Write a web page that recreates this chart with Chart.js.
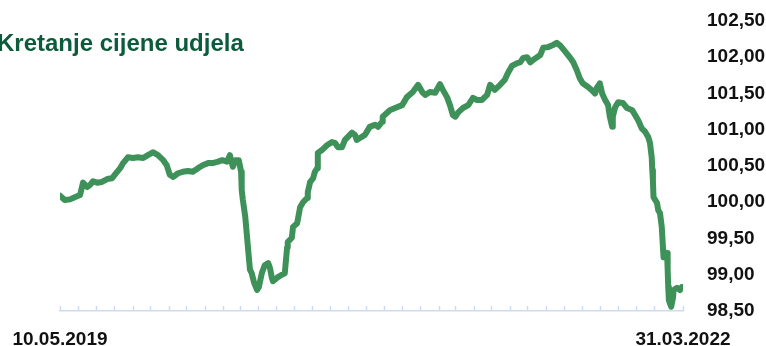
<!DOCTYPE html>
<html>
<head>
<meta charset="utf-8">
<script src="https://cdn.jsdelivr.net/npm/chart.js@4.4.1/dist/chart.umd.min.js"></script>
<style>
  html, body { margin: 0; padding: 0; background: #ffffff; overflow: hidden; }
  #wrap { position: relative; width: 766px; height: 346px; }
  #title { position: absolute; left: -3px; top: 31px; margin: 0; font: bold 24px "Liberation Sans", Arial, sans-serif; line-height: 24px; color: #0c5c3b; white-space: nowrap; z-index: 2; }
  canvas { position: absolute; left: 0; top: 0; }
</style>
</head>
<body>
<div id="wrap">
  <div id="title">Kretanje cijene udjela</div>
  <canvas id="c" width="766" height="346"></canvas>
</div>
<script>
// ---- Data ----
const startLabel = '10.05.2019';
const endLabel = '31.03.2022';
const totalDays = 1056; // 10.05.2019 -> 31.03.2022

// day offsets from 10.05.2019
const days = [
  0, 8, 17, 25, 34, 39, 46, 51, 56, 63, 71, 80, 88, 93, 102, 107, 115, 124, 132, 141,
  149, 158, 166, 175, 181, 186, 192, 200, 208, 217, 225, 234, 242, 251, 259, 268, 275, 283, 288, 293,
  297, 303, 307, 308, 310, 314, 319, 322, 325, 329, 334, 337, 342, 347, 353, 356, 359, 361, 368, 376,
  381, 385, 386, 393, 395, 402, 407, 412, 419, 420, 424, 429, 432, 436, 437, 444, 453, 461, 466, 471,
  478, 483, 495, 500, 503, 509, 517, 525, 534, 539, 546, 547, 559, 571, 580, 588, 598, 607, 614, 619,
  627, 636, 644, 649, 656, 661, 666, 670, 675, 683, 692, 700, 707, 715, 724, 729, 737, 746, 754, 759,
  766, 775, 780, 785, 792, 797, 805, 814, 819, 827, 836, 842, 848, 856, 864, 870, 876, 881, 886, 895,
  902, 907, 910, 915, 919, 924, 929, 932, 936, 937, 941, 946, 954, 961, 970, 975, 980, 986, 992, 997,
  1000, 1003, 1004, 1005, 1006, 1012, 1014, 1017, 1020, 1022, 1023, 1029, 1030, 1031, 1032, 1036, 1039, 1040, 1046, 1051,
  1054, 1056
];

const prices = [
  100.09, 100.03, 100.04, 100.07, 100.10, 100.27, 100.21, 100.24, 100.29, 100.27, 100.28, 100.32, 100.33, 100.38, 100.47, 100.54, 100.62, 100.61, 100.62, 100.61,
  100.65, 100.69, 100.65, 100.58, 100.51, 100.38, 100.35, 100.40, 100.42, 100.43, 100.42, 100.47, 100.51, 100.54, 100.54, 100.56, 100.58, 100.56, 100.65, 100.49,
  100.58, 100.58, 100.42, 100.17, 100.03, 99.80, 99.34, 99.07, 99.02, 98.89, 98.79, 98.83, 99.02, 99.13, 99.16, 99.09, 98.96, 98.91, 98.96, 99.00,
  99.02, 99.38, 99.45, 99.51, 99.66, 99.71, 99.93, 100.00, 100.06, 100.14, 100.28, 100.33, 100.42, 100.47, 100.68, 100.72, 100.79, 100.83, 100.82, 100.76,
  100.76, 100.86, 100.96, 100.93, 100.86, 100.89, 100.93, 101.04, 101.07, 101.04, 101.11, 101.18, 101.27, 101.31, 101.34, 101.45, 101.52, 101.62, 101.52, 101.48,
  101.52, 101.51, 101.63, 101.55, 101.45, 101.34, 101.20, 101.18, 101.24, 101.30, 101.34, 101.44, 101.41, 101.41, 101.48, 101.62, 101.55, 101.62, 101.69, 101.78,
  101.88, 101.92, 101.93, 101.99, 102.00, 101.93, 101.98, 102.03, 102.13, 102.14, 102.17, 102.20, 102.16, 102.08, 102.00, 101.93, 101.82, 101.71, 101.64, 101.59,
  101.54, 101.50, 101.58, 101.64, 101.50, 101.41, 101.34, 101.18, 101.04, 101.18, 101.31, 101.38, 101.37, 101.30, 101.27, 101.20, 101.13, 101.02, 100.97, 100.90,
  100.82, 100.62, 100.44, 100.30, 100.07, 99.99, 99.89, 99.85, 99.66, 99.38, 99.24, 99.30, 99.07, 98.83, 98.65, 98.56, 98.68, 98.79, 98.82, 98.79,
  98.83, 98.83
];

const yMin = 98.5, yMax = 102.5, yStep = 0.5;

// ---- Styles ----
const lineColor = '#3f915a';
const axisColor = '#cfdcee';
const labelFont = { family: '"Liberation Sans", Arial, sans-serif', size: 19, weight: 'bold' };

const points = days.map((d, i) => ({ x: d, y: prices[i] }));

const tickMarks = {
  id: 'tickMarks',
  beforeDatasetsDraw(chart) {
    const sx = chart.scales.x, ctx = chart.ctx;
    const yb = sx.top;
    ctx.save();
    ctx.strokeStyle = axisColor;
    ctx.lineWidth = 1.5;
    sx.ticks.forEach(t => {
      const px = Math.round(sx.getPixelForValue(t.value)) + 0.5;
      ctx.beginPath();
      ctx.moveTo(px, yb);
      ctx.lineTo(px, yb - 5);
      ctx.stroke();
    });
    ctx.restore();
  }
};

new Chart(document.getElementById('c'), {
  type: 'line',
  data: {
    datasets: [{
      data: points,
      borderColor: lineColor,
      borderWidth: 6,
      pointRadius: 0,
      tension: 0,
      borderJoinStyle: 'round',
      borderCapStyle: 'round',
      fill: false
    }]
  },
  options: {
    responsive: false,
    animation: false,
    devicePixelRatio: 1,
    layout: { padding: { left: 60, top: 21, right: 0, bottom: 0 } },
    plugins: { legend: { display: false }, tooltip: { enabled: false }, title: { display: false } },
    scales: {
      x: {
        type: 'linear',
        min: 0,
        max: totalDays,
        afterBuildTicks: (scale) => {
          const start = new Date(2019, 4, 10);
          const t = [];
          for (let m = 0; m <= 34; m++) {
            const d = new Date(2019, 4 + m, 10);
            t.push({ value: Math.round((d - start) / 86400000) });
          }
          t.push({ value: totalDays });
          scale.ticks = t;
        },
        afterFit: (scale) => { scale.height = 35; scale.paddingLeft = 0; scale.paddingRight = 0; },
        grid: { display: true, drawOnChartArea: false, drawTicks: false },
        border: { display: true, color: axisColor, width: 1.5 },
        ticks: {
          autoSkip: false,
          maxRotation: 0,
          minRotation: 0,
          padding: 17,
          color: '#111111',
          font: labelFont,
          callback: (v, i, arr) => i === 0 ? startLabel : (i === arr.length - 1 ? endLabel : '')
        }
      },
      y: {
        position: 'right',
        min: yMin,
        max: yMax,
        afterFit: (scale) => { scale.width = 83; scale.paddingTop = 0; scale.paddingBottom = 0; },
        grid: { display: false },
        border: { display: false },
        ticks: {
          stepSize: yStep,
          padding: 16,
          color: '#111111',
          font: labelFont,
          callback: (v) => Number(v).toFixed(2).replace('.', ',')
        }
      }
    }
  },
  plugins: [tickMarks]
});
</script>
</body>
</html>
